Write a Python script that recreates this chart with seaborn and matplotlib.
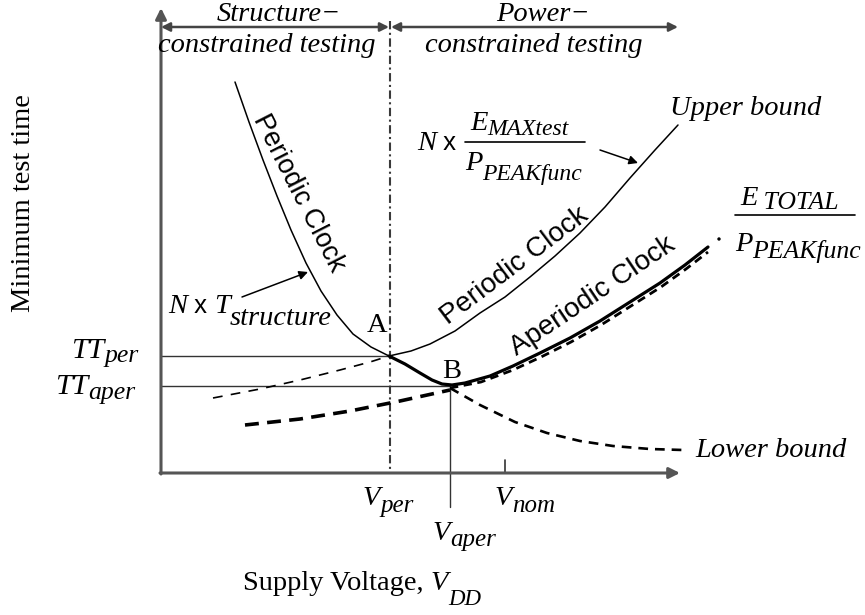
import matplotlib
matplotlib.use("Agg")
import matplotlib.pyplot as plt
import seaborn as sns

# ---------------- data (V: supply voltage, T: minimum test time; arbitrary units) ----------------
left_periodic_v = [74, 88, 102, 116, 130, 145, 160, 176, 192, 210, 228]
left_periodic_t = [391, 351, 313, 277, 243, 210, 182, 158, 139, 126, 117]

upper_periodic_v = [228, 250, 269, 294, 319, 344, 369, 394, 419, 444, 469, 494, 517]
upper_periodic_t = [117, 122, 129, 142, 160, 176, 196, 217, 240, 266, 295, 323, 348]

aperiodic_v = [228, 244, 259, 271, 281, 291, 304, 329, 352, 379, 409, 439, 469, 499, 524, 547]
aperiodic_t = [117, 109, 100, 93, 89, 88, 90, 97, 107, 120, 135, 152, 171, 190, 208, 226]

etotal_v = [289, 320, 352, 380, 410, 440, 470, 500, 525, 547]
etotal_t = [85, 91, 103, 116, 131, 148, 167, 186, 204, 221]
etotal_tail_v = [558]
etotal_tail_t = [234]

struct_ext_v = [52, 99, 139, 179, 209, 228]
struct_ext_t = [75, 84, 93, 103, 111, 117]

aper_low_v = [84, 139, 189, 239, 289]
aper_low_t = [48, 54, 62, 72, 83]

lower_bound_v = [289, 319, 354, 386, 419, 452, 489, 522]
lower_bound_t = [85, 68, 51, 40, 32, 27, 24, 23]

V_PER, V_APER, V_NOM = 229, 289, 344
TT_PER, TT_APER = 117, 87
V_AXIS_END, T_AXIS_END = 519, 465
T_REGION = 446

# ---------------- style ----------------
sns.set_theme(style="white")
plt.rcParams["lines.scale_dashes"] = False
SERIF = "Liberation Serif"
SANS = "Liberation Sans"
FS = 20.5

fig = plt.figure(figsize=(8.65, 6.15), dpi=100)
ax = fig.add_axes([0, 0, 1, 1])
ax.set_xlim(-161, 704)
ax.set_ylim(-142, 473)
ax.axis("off")
renderer = fig.canvas.get_renderer()


def curve(v, t, lw, ls="-", color="black"):
    sns.lineplot(x=v, y=t, sort=False, estimator=None, ax=ax, color=color,
                 linewidth=lw, linestyle=ls, legend=False)


def chain(x, y, pieces, ha="left"):
    """pieces: (text, size, style, family, drop)"""
    arts = []
    cx = x
    for s, size, style, fam, drop in pieces:
        t = ax.text(cx, y - drop, s, fontsize=size, style=style, family=fam,
                    va="baseline", ha="left", color="black")
        w = t.get_window_extent(renderer).width
        cx += w
        arts.append(t)
    total = cx - x
    shift = 0
    if ha == "center":
        shift = -total / 2
    elif ha == "right":
        shift = -total
    for t in arts:
        px, py = t.get_position()
        t.set_position((px + shift, py))
    return arts


# ---------------- axes ----------------
AX_COL = "#555555"
ax.annotate("", xy=(0, T_AXIS_END), xytext=(0, -1),
            arrowprops=dict(arrowstyle="-|>", mutation_scale=16, lw=2.2, color=AX_COL,
                            shrinkA=0, shrinkB=0))
ax.annotate("", xy=(V_AXIS_END, 0), xytext=(-1, 0),
            arrowprops=dict(arrowstyle="-|>", mutation_scale=16, lw=2.2, color=AX_COL,
                            shrinkA=0, shrinkB=0))

# region arrows at the top
for a, b in [(0, V_PER - 1), (V_PER + 1, V_AXIS_END - 2)]:
    ax.annotate("", xy=(b, T_REGION), xytext=(a, T_REGION),
                arrowprops=dict(arrowstyle="<|-|>", mutation_scale=13, lw=1.8, color="#444444",
                                shrinkA=0, shrinkB=0))

# vertical dash-dot at V_per
curve([V_PER, V_PER], [452, 0], lw=1.5, ls=(0, (6, 2.5, 1.5, 2.5)), color="#3a3a3a")

# reference lines
curve([0, V_PER], [TT_PER, TT_PER], lw=1.0, color="#333333")
curve([0, V_APER], [TT_APER, TT_APER], lw=1.0, color="#333333")
curve([V_APER, V_APER], [TT_APER, -34], lw=1.0, color="#333333")
curve([V_NOM, V_NOM], [13, 0], lw=1.2, color="#333333")

# ---------------- curves ----------------
curve(left_periodic_v, left_periodic_t, lw=1.1)
curve(upper_periodic_v, upper_periodic_t, lw=1.1)
curve(struct_ext_v, struct_ext_t, lw=1.2, ls=(0, (7, 6)))
curve(aper_low_v, aper_low_t, lw=2.6, ls=(0, (10, 6)))
curve(lower_bound_v, lower_bound_t, lw=1.9, ls=(0, (7, 5)))
curve(etotal_v, etotal_t, lw=2.0, ls=(0, (6, 4)))
curve(aperiodic_v, aperiodic_t, lw=2.3)
sns.scatterplot(x=etotal_tail_v, y=etotal_tail_t, ax=ax, color="black", s=6,
                edgecolor="none", legend=False)

# ---------------- text ----------------
it = dict(family=SERIF, style="italic", color="black")
ax.text(118, 452, "Structure\u2212", fontsize=FS, ha="center", va="baseline", **it)
ax.text(106, 421, "constrained testing", fontsize=FS, ha="center", va="baseline", **it)
ax.text(382, 452, "Power\u2212", fontsize=FS, ha="center", va="baseline", **it)
ax.text(373, 421, "constrained testing", fontsize=FS, ha="center", va="baseline", **it)

ax.text(-138, 270, "Minimum test time", fontsize=FS, family=SERIF, rotation=90,
        ha="center", va="center", color="black")

chain(82, -117, [("Supply Voltage, ", FS, "normal", SERIF, 0),
                 ("V", FS, "italic", SERIF, 0),
                 ("DD", 16.5, "italic", SERIF, 15)])

chain(-22, 115, [("TT", 21.5, "italic", SERIF, 0), ("per", 18.5, "italic", SERIF, 4)], ha="right")
chain(-26, 79, [("TT", 21.5, "italic", SERIF, 0), ("aper", 18.5, "italic", SERIF, 5)], ha="right")

chain(202, -32, [("V", FS, "italic", SERIF, 0), ("per", 18, "italic", SERIF, 7)])
chain(334, -32, [("V", FS, "italic", SERIF, 0), ("nom", 18, "italic", SERIF, 7)])
chain(272, -67, [("V", FS, "italic", SERIF, 0), ("aper", 18, "italic", SERIF, 6)])

ax.text(216, 141, "A", fontsize=FS, family=SERIF, ha="center", va="baseline", color="black")
ax.text(291, 95, "B", fontsize=FS, family=SERIF, ha="center", va="baseline", color="black")

# N x T_structure
chain(7, 160, [("N", FS, "italic", SERIF, 0), (" x ", FS - 2, "normal", SANS, 0),
               ("T", FS, "italic", SERIF, 0), ("structure", FS, "italic", SERIF, 12)])
ax.annotate("", xy=(147, 201), xytext=(81, 176),
            arrowprops=dict(arrowstyle="-|>", mutation_scale=13, lw=1.1, color="black",
                            shrinkA=0, shrinkB=0))

# N x E_MAXtest / P_PEAKfunc
chain(256, 323, [("N", FS, "italic", SERIF, 0), (" x ", FS - 2, "normal", SANS, 0)])
chain(309, 343, [("E", FS, "italic", SERIF, 0), ("MAXtest", 17, "italic", SERIF, 5)])
curve([304, 424], [331, 331], lw=1.2)
chain(304, 303, [("P", FS, "italic", SERIF, 0), ("PEAKfunc", 17, "italic", SERIF, 10)])
ax.annotate("", xy=(477, 310), xytext=(439, 323),
            arrowprops=dict(arrowstyle="-|>", mutation_scale=13, lw=1.1, color="black",
                            shrinkA=0, shrinkB=0))

# E_TOTAL / P_PEAKfunc
chain(579, 268, [("E", FS, "italic", SERIF, 0), (" TOTAL", 18.5, "italic", SERIF, 4)])
curve([574, 694], [258, 258], lw=1.2)
chain(574, 222, [("P", FS, "italic", SERIF, 0), ("PEAKfunc", 18.5, "italic", SERIF, 7)])

ax.text(509, 358, "Upper bound", fontsize=FS, ha="left", va="baseline", **it)
ax.text(534, 16, "Lower bound", fontsize=FS, ha="left", va="baseline", **it)

# rotated sans labels
ax.text(138, 280, "Periodic Clock", fontsize=19.5, family=SANS, rotation=-63,
        rotation_mode="anchor", ha="center", va="center", color="black")
ax.text(354, 207, "Periodic Clock", fontsize=20, family=SANS, rotation=37,
        rotation_mode="anchor", ha="center", va="center", color="black")
ax.text(432, 177, "Aperiodic Clock", fontsize=20, family=SANS, rotation=34,
        rotation_mode="anchor", ha="center", va="center", color="black")

fig.savefig("out.png", dpi=100, facecolor="white")
